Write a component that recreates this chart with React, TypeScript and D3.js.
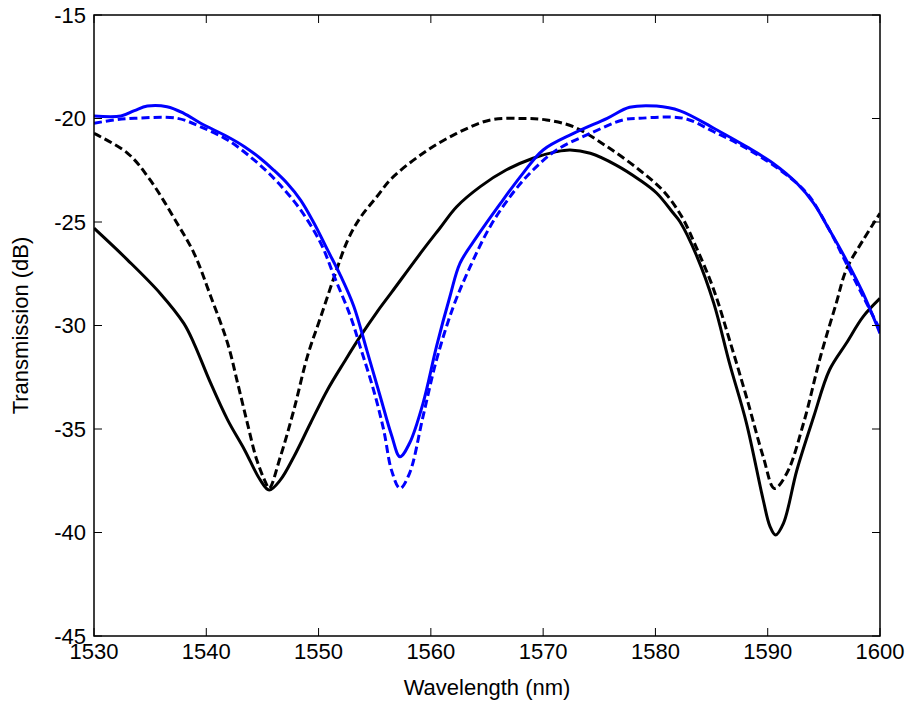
import React from "react";
import * as d3 from "d3";

const xTicks = [1530, 1540, 1550, 1560, 1570, 1580, 1590, 1600];
const yTicks = [-45, -40, -35, -30, -25, -20, -15];

const blackSolid: [number, number][] = [
  [1530, -25.3], [1533.0, -26.84], [1535.9, -28.45], [1538.0, -29.9], [1538.9, -30.86], [1540.4, -32.8],
  [1541.9, -34.56], [1543.4, -36.0], [1544.8, -37.46], [1545.6, -37.95], [1546.6, -37.46], [1547.8, -36.34],
  [1549.3, -34.7], [1550.8, -33.1], [1552.3, -31.75], [1553.7, -30.54], [1555.2, -29.35], [1556.5, -28.4],
  [1559.3, -26.35], [1560.8, -25.3], [1562.3, -24.26], [1564.4, -23.29], [1566.7, -22.49], [1569.1, -21.92],
  [1571.2, -21.6], [1572.4, -21.52], [1574.2, -21.68], [1576.5, -22.25], [1578.6, -22.97], [1580.1, -23.6],
  [1581.6, -24.58], [1582.2, -25.0], [1583.7, -26.67], [1585.2, -28.93], [1586.6, -31.83], [1588.1, -34.7],
  [1589.6, -38.43], [1590.2, -39.7], [1590.7, -40.12], [1591.4, -39.56], [1592.6, -36.98], [1594.1, -34.4],
  [1595.5, -32.15], [1597.0, -30.86], [1598.5, -29.57], [1600, -28.69],
];

const blackDashed: [number, number][] = [
  [1530, -20.72], [1533.0, -21.68], [1535.0, -22.97], [1537.4, -25.06], [1538.9, -26.5], [1540.4, -28.6],
  [1541.9, -30.86], [1542.8, -32.8], [1543.65, -34.7], [1544.5, -36.5], [1545.3, -37.6], [1545.6, -37.87],
  [1546.6, -36.34], [1547.8, -34.08], [1549.0, -31.5], [1550.2, -29.57], [1551.4, -27.64], [1552.6, -25.87],
  [1553.7, -24.8], [1555.2, -23.77], [1556.5, -22.9], [1559.3, -21.68], [1562.3, -20.72], [1565.3, -20.07],
  [1568.2, -20.0], [1570.3, -20.07], [1572.7, -20.4], [1575.7, -21.36], [1578.6, -22.5], [1580.7, -23.5],
  [1582.3, -24.7], [1583.7, -26.3], [1585.2, -28.28], [1586.6, -30.7], [1588.1, -33.44], [1589.6, -36.34],
  [1590.6, -37.87], [1591.7, -37.14], [1593.2, -34.7], [1594.7, -31.5], [1596.1, -28.93], [1597.0, -27.3],
  [1598.5, -25.87], [1600, -24.58],
];

const blueSolid: [number, number][] = [
  [1530, -19.88], [1532.4, -19.88], [1533.6, -19.62], [1534.75, -19.4], [1536.5, -19.43], [1538.0, -19.75],
  [1539.5, -20.23], [1541.9, -20.88], [1543.4, -21.36], [1544.8, -21.92], [1546.0, -22.49], [1547.2, -23.13],
  [1548.4, -23.94], [1549.6, -25.06], [1550.8, -26.35], [1552.0, -27.64], [1553.15, -29.09], [1554.3, -31.2],
  [1555.5, -33.44], [1556.5, -35.3], [1557.25, -36.34], [1558.1, -35.69], [1559.3, -33.76], [1560.5, -31.02],
  [1561.7, -28.6], [1562.6, -26.99], [1564.1, -25.71], [1566.2, -24.1], [1568.2, -22.65], [1570.0, -21.52],
  [1572.7, -20.72], [1575.7, -19.99], [1577.7, -19.46], [1580.1, -19.4], [1582.2, -19.63], [1585.2, -20.47],
  [1588.1, -21.36], [1590.5, -22.17], [1592.6, -23.13], [1594.1, -24.1], [1595.5, -25.39], [1597.0, -26.84],
  [1598.5, -28.45], [1600, -30.38],
];

const blueDashed: [number, number][] = [
  [1530, -20.23], [1531.8, -20.07], [1533.6, -19.99], [1537.4, -19.99], [1539.5, -20.4], [1541.9, -21.04],
  [1544.25, -22.0], [1546.3, -23.05], [1548.4, -24.42], [1550.2, -26.03], [1551.4, -27.64], [1552.85, -29.57],
  [1553.7, -31.02], [1554.9, -33.12], [1555.8, -35.05], [1556.5, -37.0], [1557.25, -37.87], [1558.1, -37.14],
  [1559.3, -34.4], [1560.5, -31.67], [1562.0, -29.09], [1563.5, -27.16], [1565.3, -25.2], [1567.3, -23.6],
  [1569.1, -22.49], [1571.2, -21.52], [1574.2, -20.72], [1577.1, -20.07], [1578.6, -19.99], [1582.5, -19.99],
  [1585.2, -20.64], [1588.1, -21.44], [1591.1, -22.49], [1593.5, -23.62], [1595.5, -25.39], [1597.0, -27.0],
  [1598.5, -28.6], [1600, -30.2],
];

const W = 909;
const H = 702;
const M = { left: 94, right: 880, top: 15, bottom: 636 };
const FONT = "'Liberation Sans', Arial, sans-serif";
const FS = 22;

export default function App() {
  const x = d3.scaleLinear().domain([1530, 1600]).range([M.left, M.right]);
  const y = d3.scaleLinear().domain([-45, -15]).range([M.bottom, M.top]);
  const line = d3
    .line<[number, number]>()
    .x((d) => x(d[0]))
    .y((d) => y(d[1]))
    .curve(d3.curveCatmullRom.alpha(0.5));

  const series = [
    { data: blackSolid, color: "#000", dash: undefined },
    { data: blackDashed, color: "#000", dash: "8,4" },
    { data: blueSolid, color: "#0000ff", dash: undefined },
    { data: blueDashed, color: "#0000ff", dash: "8,4" },
  ];
  const tl = 8;

  return (
    <svg
      width={W}
      height={H}
      style={{ position: "absolute", left: 0, top: 0, background: "#fff" }}
      fontFamily={FONT}
    >
      <rect x={0} y={0} width={W} height={H} fill="#fff" />
      <defs>
        <clipPath id="plotclip">
          <rect x={M.left} y={M.top} width={M.right - M.left} height={M.bottom - M.top} />
        </clipPath>
      </defs>
      <g clipPath="url(#plotclip)">
        {series.map((s, i) => (
          <path
            key={i}
            d={line(s.data) || ""}
            fill="none"
            stroke={s.color}
            strokeWidth={3}
            strokeDasharray={s.dash}
            strokeLinejoin="round"
          />
        ))}
      </g>
      {xTicks.map((t) => (
        <g key={"x" + t}>
          <line x1={x(t)} x2={x(t)} y1={M.bottom} y2={M.bottom - tl} stroke="#000" strokeWidth={1} />
          <line x1={x(t)} x2={x(t)} y1={M.top} y2={M.top + tl} stroke="#000" strokeWidth={1} />
          <text x={x(t)} y={659} textAnchor="middle" fontSize={FS} fill="#000">
            {t}
          </text>
        </g>
      ))}
      {yTicks.map((t) => (
        <g key={"y" + t}>
          <line x1={M.left} x2={M.left + tl} y1={y(t)} y2={y(t)} stroke="#000" strokeWidth={1} />
          <line x1={M.right} x2={M.right - tl} y1={y(t)} y2={y(t)} stroke="#000" strokeWidth={1} />
          <text x={M.left - 8} y={y(t)} dy="0.36em" textAnchor="end" fontSize={FS} fill="#000">
            {t}
          </text>
        </g>
      ))}
      <rect
        x={M.left}
        y={M.top}
        width={M.right - M.left}
        height={M.bottom - M.top}
        fill="none"
        stroke="#000"
        strokeWidth={1.5}
      />
      <text x={(M.left + M.right) / 2} y={695} textAnchor="middle" fontSize={FS} fill="#000">
        Wavelength (nm)
      </text>
      <text
        transform={`translate(28, ${(M.top + M.bottom) / 2}) rotate(-90)`}
        textAnchor="middle"
        fontSize={FS}
        fill="#000"
      >
        Transmission (dB)
      </text>
    </svg>
  );
}
